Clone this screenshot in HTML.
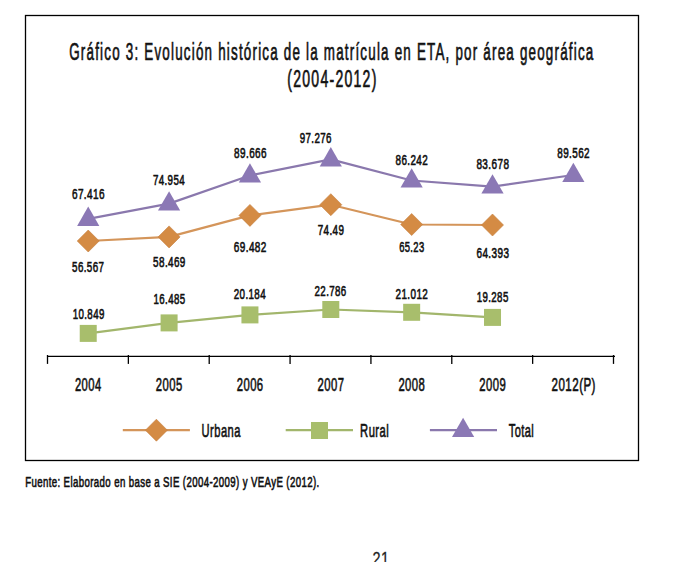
<!DOCTYPE html>
<html><head><meta charset="utf-8"><style>
html,body{margin:0;padding:0;background:#fff;width:682px;height:562px;overflow:hidden}
svg{display:block}
text{font-family:"Liberation Sans",sans-serif}
</style></head><body>
<svg width="682" height="562" viewBox="0 0 682 562">
<rect x="25.5" y="15.5" width="613" height="445" fill="none" stroke="#000" stroke-width="1.3"/>
<polyline points="88.23,333.40 169.09,322.90 249.94,314.90 330.80,309.50 411.66,312.30 492.51,317.40" fill="none" stroke="#a2b66c" stroke-width="2.2" stroke-linejoin="round"/>
<polyline points="88.23,241.00 169.09,236.90 249.94,215.40 330.80,204.70 411.66,224.50 492.51,225.00" fill="none" stroke="#d4955a" stroke-width="2.2" stroke-linejoin="round"/>
<polyline points="88.23,218.90 169.09,203.60 249.94,175.50 330.80,159.40 411.66,180.50 492.51,186.60 573.37,175.00" fill="none" stroke="#8a78ad" stroke-width="2.2" stroke-linejoin="round"/>
<rect x="79.73" y="324.90" width="17.00" height="17.00" fill="#a8be6c"/>
<rect x="160.59" y="314.40" width="17.00" height="17.00" fill="#a8be6c"/>
<rect x="241.44" y="306.40" width="17.00" height="17.00" fill="#a8be6c"/>
<rect x="322.30" y="301.00" width="17.00" height="17.00" fill="#a8be6c"/>
<rect x="403.16" y="303.80" width="17.00" height="17.00" fill="#a8be6c"/>
<rect x="484.01" y="308.90" width="17.00" height="17.00" fill="#a8be6c"/>
<polygon points="88.23,230.00 99.23,241.00 88.23,252.00 77.23,241.00" fill="#d48b44" stroke="#c47d3e" stroke-width="0.6" stroke-linejoin="miter"/>
<polygon points="169.09,225.90 180.09,236.90 169.09,247.90 158.09,236.90" fill="#d48b44" stroke="#c47d3e" stroke-width="0.6" stroke-linejoin="miter"/>
<polygon points="249.94,204.40 260.94,215.40 249.94,226.40 238.94,215.40" fill="#d48b44" stroke="#c47d3e" stroke-width="0.6" stroke-linejoin="miter"/>
<polygon points="330.80,193.70 341.80,204.70 330.80,215.70 319.80,204.70" fill="#d48b44" stroke="#c47d3e" stroke-width="0.6" stroke-linejoin="miter"/>
<polygon points="411.66,213.50 422.66,224.50 411.66,235.50 400.66,224.50" fill="#d48b44" stroke="#c47d3e" stroke-width="0.6" stroke-linejoin="miter"/>
<polygon points="492.51,214.00 503.51,225.00 492.51,236.00 481.51,225.00" fill="#d48b44" stroke="#c47d3e" stroke-width="0.6" stroke-linejoin="miter"/>
<polygon points="88.23,206.60 99.33,225.90 77.13,225.90" fill="#8b78b5"/>
<polygon points="169.09,191.30 180.19,210.60 157.99,210.60" fill="#8b78b5"/>
<polygon points="249.94,163.20 261.04,182.50 238.84,182.50" fill="#8b78b5"/>
<polygon points="330.80,147.10 341.90,166.40 319.70,166.40" fill="#8b78b5"/>
<polygon points="411.66,168.20 422.76,187.50 400.56,187.50" fill="#8b78b5"/>
<polygon points="492.51,174.30 503.61,193.60 481.41,193.60" fill="#8b78b5"/>
<polygon points="573.37,162.70 584.47,182.00 562.27,182.00" fill="#8b78b5"/>
<line x1="47" y1="356.4" x2="615" y2="356.4" stroke="#000" stroke-width="1.3"/>
<line x1="47.50" y1="355" x2="47.50" y2="363.9" stroke="#000" stroke-width="1.3"/>
<line x1="128.36" y1="355" x2="128.36" y2="363.9" stroke="#000" stroke-width="1.3"/>
<line x1="209.21" y1="355" x2="209.21" y2="363.9" stroke="#000" stroke-width="1.3"/>
<line x1="290.07" y1="355" x2="290.07" y2="363.9" stroke="#000" stroke-width="1.3"/>
<line x1="370.93" y1="355" x2="370.93" y2="363.9" stroke="#000" stroke-width="1.3"/>
<line x1="451.78" y1="355" x2="451.78" y2="363.9" stroke="#000" stroke-width="1.3"/>
<line x1="532.64" y1="355" x2="532.64" y2="363.9" stroke="#000" stroke-width="1.3"/>
<line x1="613.50" y1="355" x2="613.50" y2="363.9" stroke="#000" stroke-width="1.3"/>
<line x1="122.8" y1="430.1" x2="189.9" y2="430.1" stroke="#d4955a" stroke-width="2.2"/>
<polygon points="156.40,419.20 167.40,430.20 156.40,441.20 145.40,430.20" fill="#d48b44" stroke="#c47d3e" stroke-width="0.6" stroke-linejoin="miter"/>
<line x1="285.7" y1="430.2" x2="353.0" y2="430.2" stroke="#a2b66c" stroke-width="2.2"/>
<rect x="311.00" y="422.00" width="17.00" height="17.00" fill="#a8be6c"/>
<line x1="429.9" y1="430.2" x2="497.0" y2="430.2" stroke="#8a78ad" stroke-width="2.2"/>
<polygon points="463.10,417.80 474.20,437.10 452.00,437.10" fill="#8b78b5"/>
<text transform="translate(69.22,59.60) scale(0.13404,0.24300)" font-size="100" font-weight="normal" letter-spacing="9.000" fill="#111" stroke="#111" stroke-width="2.881">Gráfico 3: Evolución histórica de la matrícula en ETA, por área geográfica</text>
<text transform="translate(287.26,86.80) scale(0.14044,0.24200)" font-size="100" font-weight="normal" letter-spacing="9.000" fill="#111" stroke="#111" stroke-width="2.893">(2004-2012)</text>
<text transform="translate(71.91,198.75) scale(0.10023,0.15300)" font-size="100" font-weight="normal" letter-spacing="4.000" fill="#111" stroke="#111" stroke-width="4.248">67.416</text>
<text transform="translate(152.92,184.75) scale(0.09744,0.15300)" font-size="100" font-weight="normal" letter-spacing="4.000" fill="#111" stroke="#111" stroke-width="4.248">74.954</text>
<text transform="translate(234.11,157.75) scale(0.09961,0.15300)" font-size="100" font-weight="normal" letter-spacing="4.000" fill="#111" stroke="#111" stroke-width="4.248">89.666</text>
<text transform="translate(299.72,142.85) scale(0.09744,0.15300)" font-size="100" font-weight="normal" letter-spacing="4.000" fill="#111" stroke="#111" stroke-width="4.248">97.276</text>
<text transform="translate(395.51,164.75) scale(0.09899,0.15300)" font-size="100" font-weight="normal" letter-spacing="4.000" fill="#111" stroke="#111" stroke-width="4.248">86.242</text>
<text transform="translate(476.41,168.85) scale(0.09992,0.15300)" font-size="100" font-weight="normal" letter-spacing="4.000" fill="#111" stroke="#111" stroke-width="4.248">83.678</text>
<text transform="translate(557.31,157.75) scale(0.09899,0.15300)" font-size="100" font-weight="normal" letter-spacing="4.000" fill="#111" stroke="#111" stroke-width="4.248">89.562</text>
<text transform="translate(72.12,271.75) scale(0.09774,0.15300)" font-size="100" font-weight="normal" letter-spacing="4.000" fill="#111" stroke="#111" stroke-width="4.248">56.567</text>
<text transform="translate(153.11,266.75) scale(0.09899,0.15300)" font-size="100" font-weight="normal" letter-spacing="4.000" fill="#111" stroke="#111" stroke-width="4.248">58.469</text>
<text transform="translate(233.81,251.55) scale(0.09992,0.15300)" font-size="100" font-weight="normal" letter-spacing="4.000" fill="#111" stroke="#111" stroke-width="4.248">69.482</text>
<text transform="translate(317.72,234.85) scale(0.09837,0.15300)" font-size="100" font-weight="normal" letter-spacing="4.000" fill="#111" stroke="#111" stroke-width="4.248">74.49</text>
<text transform="translate(399.13,252.45) scale(0.09416,0.15300)" font-size="100" font-weight="normal" letter-spacing="4.000" fill="#111" stroke="#111" stroke-width="4.248">65.23</text>
<text transform="translate(476.51,257.85) scale(0.09961,0.15300)" font-size="100" font-weight="normal" letter-spacing="4.000" fill="#111" stroke="#111" stroke-width="4.248">64.393</text>
<text transform="translate(72.73,318.75) scale(0.09709,0.15300)" font-size="100" font-weight="normal" letter-spacing="4.000" fill="#111" stroke="#111" stroke-width="4.248">10.849</text>
<text transform="translate(153.53,303.95) scale(0.09679,0.15300)" font-size="100" font-weight="normal" letter-spacing="4.000" fill="#111" stroke="#111" stroke-width="4.248">16.485</text>
<text transform="translate(233.72,298.95) scale(0.09806,0.15300)" font-size="100" font-weight="normal" letter-spacing="4.000" fill="#111" stroke="#111" stroke-width="4.248">20.184</text>
<text transform="translate(314.52,295.65) scale(0.09743,0.15300)" font-size="100" font-weight="normal" letter-spacing="4.000" fill="#111" stroke="#111" stroke-width="4.248">22.786</text>
<text transform="translate(395.51,298.75) scale(0.09930,0.15300)" font-size="100" font-weight="normal" letter-spacing="4.000" fill="#111" stroke="#111" stroke-width="4.248">21.012</text>
<text transform="translate(476.73,301.65) scale(0.09679,0.15300)" font-size="100" font-weight="normal" letter-spacing="4.000" fill="#111" stroke="#111" stroke-width="4.248">19.285</text>
<text transform="translate(74.96,390.90) scale(0.11193,0.18600)" font-size="100" font-weight="normal" letter-spacing="4.000" fill="#111" stroke="#111" stroke-width="3.495">2004</text>
<text transform="translate(155.82,390.90) scale(0.11291,0.18600)" font-size="100" font-weight="normal" letter-spacing="4.000" fill="#111" stroke="#111" stroke-width="3.495">2005</text>
<text transform="translate(236.68,390.90) scale(0.11291,0.18600)" font-size="100" font-weight="normal" letter-spacing="4.000" fill="#111" stroke="#111" stroke-width="3.495">2006</text>
<text transform="translate(317.53,390.90) scale(0.11291,0.18600)" font-size="100" font-weight="normal" letter-spacing="4.000" fill="#111" stroke="#111" stroke-width="3.495">2007</text>
<text transform="translate(398.39,390.90) scale(0.11291,0.18600)" font-size="100" font-weight="normal" letter-spacing="4.000" fill="#111" stroke="#111" stroke-width="3.495">2008</text>
<text transform="translate(479.25,390.90) scale(0.11291,0.18600)" font-size="100" font-weight="normal" letter-spacing="4.000" fill="#111" stroke="#111" stroke-width="3.495">2009</text>
<text transform="translate(551.57,390.90) scale(0.11571,0.18600)" font-size="100" font-weight="normal" letter-spacing="4.000" fill="#111" stroke="#111" stroke-width="3.495">2012(P)</text>
<text transform="translate(201.61,437.30) scale(0.11148,0.18750)" font-size="100" font-weight="normal" letter-spacing="4.000" fill="#111" stroke="#111" stroke-width="3.467">Urbana</text>
<text transform="translate(360.10,437.30) scale(0.11249,0.18750)" font-size="100" font-weight="normal" letter-spacing="4.000" fill="#111" stroke="#111" stroke-width="3.467">Rural</text>
<text transform="translate(508.67,437.10) scale(0.11058,0.18750)" font-size="100" font-weight="normal" letter-spacing="4.000" fill="#111" stroke="#111" stroke-width="3.467">Total</text>
<text transform="translate(25.13,486.90) scale(0.09653,0.15400)" font-size="100" font-weight="normal" letter-spacing="4.000" fill="#111" stroke="#111" stroke-width="4.221">Fuente: Elaborado en base a SIE (2004-2009) y VEAyE (2012).</text>
<text transform="translate(372.48,565.22) scale(0.14470,0.17500)" font-size="100" font-weight="normal" letter-spacing="3.000" fill="#222" stroke="#222" stroke-width="1.429">21</text>
</svg></body></html>
